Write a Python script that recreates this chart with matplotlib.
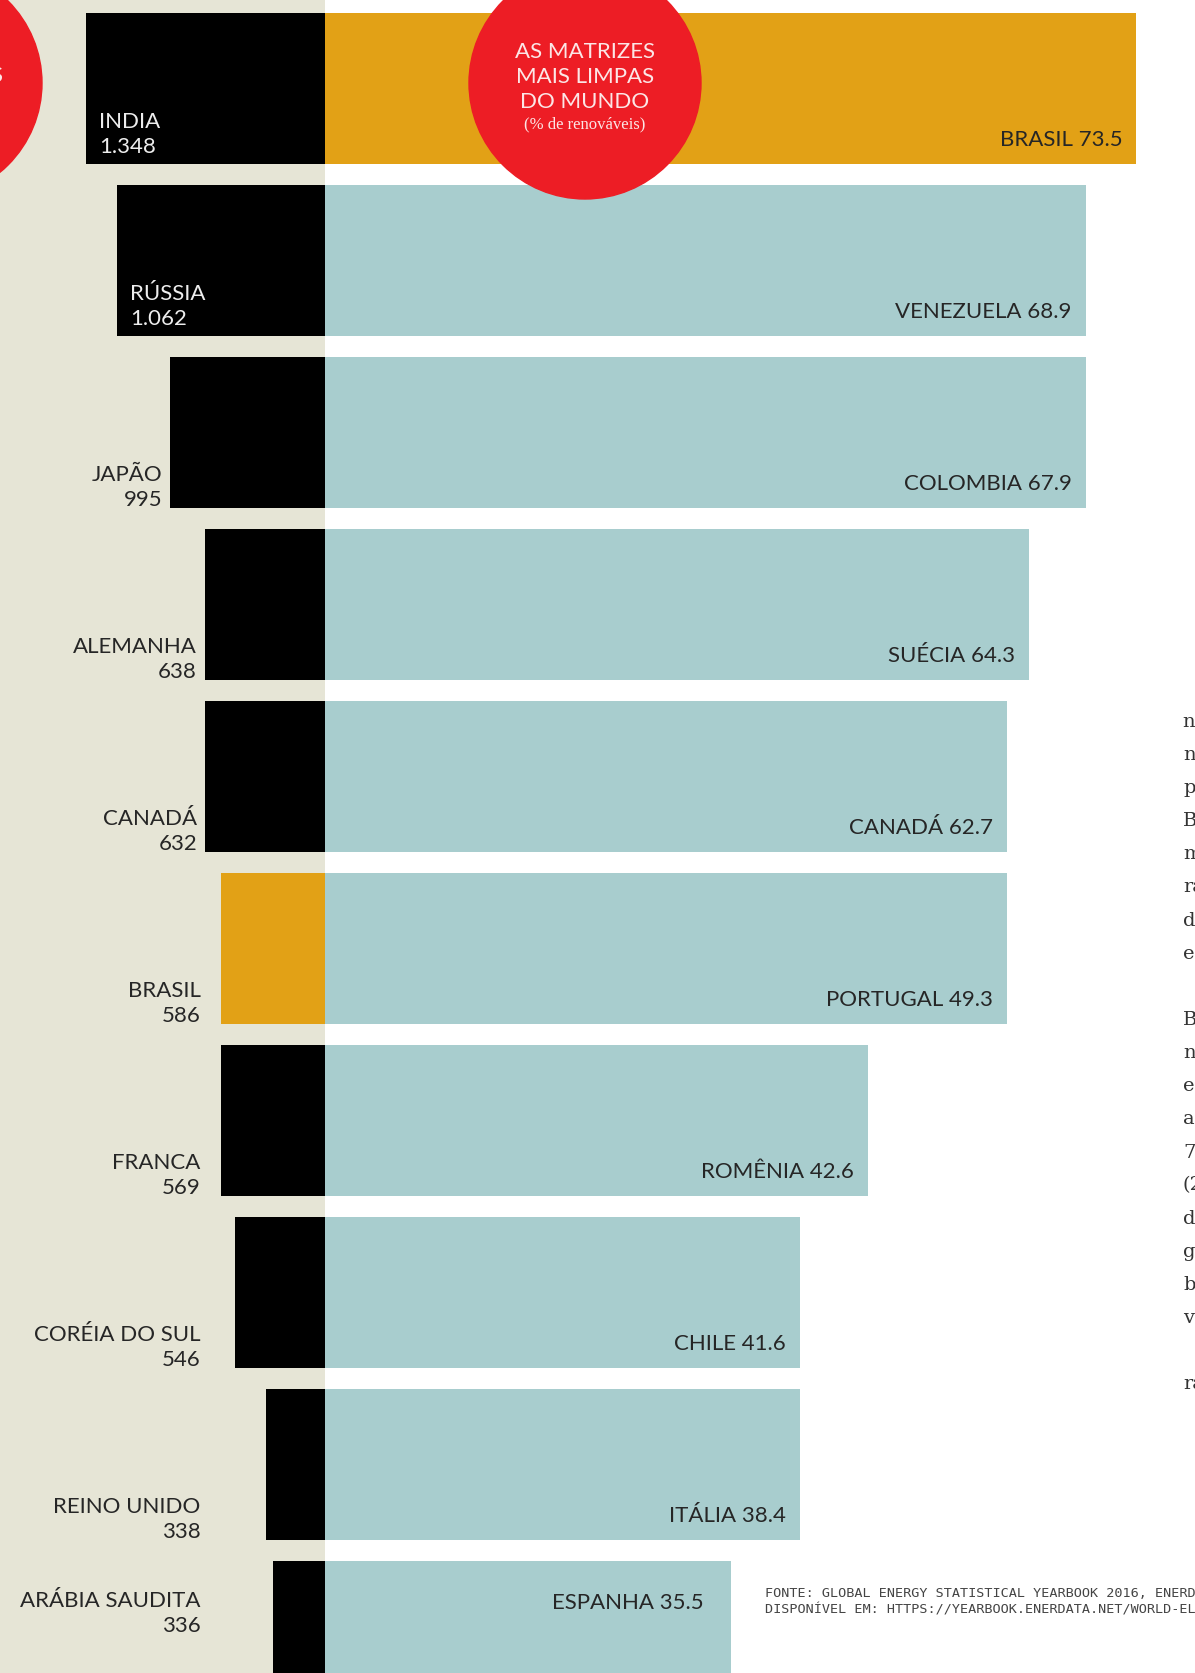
import matplotlib
matplotlib.use("Agg")
import matplotlib.pyplot as plt
from matplotlib.patches import Circle
import numpy as np

# tamanho final em pixels
W, H = 1195, 1674
DPI = 100

# consumo (lado esquerdo, barras pretas)
paises_consumo = ["INDIA", "RÚSSIA", "JAPÃO", "ALEMANHA", "CANADÁ", "BRASIL",
                  "FRANCA", "CORÉIA DO SUL", "REINO UNIDO", "ARÁBIA SAUDITA"]
consumo_rotulo = ["1.348", "1.062", "995", "638", "632", "586", "569", "546", "338", "336"]
# comprimento das barras como aparecem no desenho (mesma unidade do rotulo)
consumo_barra = [1348, 1173, 873, 676, 676, 586, 586, 505, 333, 289]

# matrizes mais limpas (lado direito, % de renovaveis)
paises_renov = ["BRASIL", "VENEZUELA", "COLOMBIA", "SUÉCIA", "CANADÁ",
                "PORTUGAL", "ROMÊNIA", "CHILE", "ITÁLIA", "ESPANHA"]
renov_rotulo = ["73.5", "68.9", "67.9", "64.3", "62.7", "49.3", "42.6", "41.6", "38.4", "35.5"]
renov_barra = [73.5, 68.9, 68.9, 63.8, 61.8, 61.8, 49.2, 43.0, 43.0, 36.8]

destaque = "BRASIL"

texto_lateral = ["nos últimos", "nossa", "produção", "Brasil", "mais", "razão", "de", "energia",
                 "", "Brasil", "no", "em", "a", "73,5%", "(2016)", "da", "geração", "brasileira",
                 "vem", "", "rápido"]

BEGE = "#E6E5D6"
OURO = "#E2A116"
AZUL = "#A8CDCE"
VERMELHO = "#ED1D25"
ESCURO = "#262626"

FONTE = ["Lato", "DejaVu Sans"]
plt.rcParams["font.family"] = FONTE

DIV = 324.5          # divisa bege / branco
SX_R = 11.047        # px por ponto percentual
SX_L = 0.1767        # px por unidade de consumo
SY = 172.0           # px por linha
Y0 = 89.5            # centro da primeira linha
alt = 151.0 / SY

fig = plt.figure(figsize=(W / DPI, H / DPI), dpi=DPI)
fig.patch.set_facecolor("white")

ax_l = fig.add_axes([0, 0, DIV / W, 1])
ax_r = fig.add_axes([DIV / W, 0, (W - DIV) / W, 1])
for ax in (ax_l, ax_r):
    ax.set_ylim((H - Y0) / SY, -Y0 / SY)
    ax.axis("off")
ax_l.set_xlim(DIV / SX_L, 0)
ax_r.set_xlim(0, (W - DIV) / SX_R)
ax_l.add_patch(plt.Rectangle((0, 0), 1, 1, transform=ax_l.transAxes, color=BEGE, zorder=0))

y = np.arange(len(paises_consumo))
cor_l = [OURO if p == destaque else "black" for p in paises_consumo]
cor_r = [OURO if p == destaque else AZUL for p in paises_renov]
ax_l.barh(y, consumo_barra, height=alt, color=cor_l, zorder=2)
ax_r.barh(y, renov_barra, height=alt, color=cor_r, zorder=2)

n = len(y)
fs = 16
for i in range(n):
    ultima = i == n - 1
    base = i + alt / 2
    # rotulo direita
    if ultima:
        yy, dx = i - 0.166, 27
    else:
        yy, dx = base - 19 / SY, 14
    ax_r.text(renov_barra[i] - dx / SX_R, yy, f"{paises_renov[i]} {renov_rotulo[i]}",
              ha="right", va="baseline", fontsize=fs, color=ESCURO, zorder=3)

    # rotulo esquerda
    w = consumo_barra[i] * SX_L
    if w > 180:
        x = (w - 13) / SX_L
        y1, y2 = base - 37 / SY, base - 12 / SY
        ha, cor = "left", "#EDEDED"
    else:
        x = max(w + 8, 124) / SX_L
        y1, y2 = base - 28 / SY, base - 3 / SY
        ha, cor = "right", ESCURO
    if ultima:
        y1, y2 = i - 0.179, i - 0.034
    ax_l.text(x, y1, paises_consumo[i], ha=ha, va="baseline", fontsize=fs, color=cor, zorder=3)
    ax_l.text(x, y2, consumo_rotulo[i], ha=ha, va="baseline", fontsize=fs, color=cor, zorder=3)

# camada de cima em pixels: circulos, fonte, texto lateral
ov = fig.add_axes([0, 0, 1, 1], zorder=5)
ov.set_xlim(0, W)
ov.set_ylim(H, 0)
ov.axis("off")
ov.patch.set_alpha(0)

ov.add_patch(Circle((585, 84), 116, color=VERMELHO, zorder=1))
ov.add_patch(Circle((-74, 84), 116, color=VERMELHO, zorder=1))

rosa = "#FCE6E6"
for txt, yb in zip(["AS MATRIZES", "MAIS LIMPAS", "DO MUNDO"], [58, 83, 108]):
    ov.text(585, yb, txt, ha="center", va="baseline", fontsize=fs, color=rosa, zorder=2)
ov.text(585, 128, "(% de renováveis)", ha="center", va="baseline", fontsize=12,
        family=["Liberation Serif", "DejaVu Serif"], color=rosa, zorder=2)
ov.text(3, 82, "CONSUMIDORES", ha="right", va="baseline", fontsize=fs, color=rosa, zorder=2)

mono = ["DejaVu Sans Mono"]
ov.text(765, 1597, "FONTE: GLOBAL ENERGY STATISTICAL YEARBOOK 2016, ENERDATA.",
        ha="left", va="baseline", fontsize=9.7, family=mono, color="#444444")
ov.text(765, 1614, "DISPONÍVEL EM: HTTPS://YEARBOOK.ENERDATA.NET/WORLD-ELECTRICITY-PRODUCTION",
        ha="left", va="baseline", fontsize=9.7, family=mono, color="#444444")

for k, linha in enumerate(texto_lateral):
    if linha:
        ov.text(1183, 727 + 33.1 * k, linha, ha="left", va="baseline", fontsize=14,
                family=["DejaVu Serif"], color="#333333")

fig.savefig("out.png", dpi=DPI)
